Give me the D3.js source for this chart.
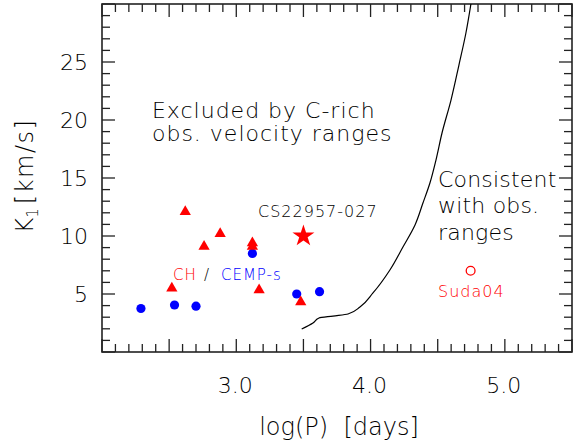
<!DOCTYPE html>
<html>
<head>
<meta charset="utf-8">
<script src="https://cdn.jsdelivr.net/npm/d3@7"></script>
<style>
  body { margin: 0; background: #fff; }
  text { font-family: "DejaVu Sans", sans-serif; font-weight: 200; fill: #000; }
</style>
</head>
<body>
<div id="chart"></div>
<script>
// CH stars (red triangles), log(P) vs K1
const chStars = [
  [2.52, 5.5], [2.62, 12.1], [2.76, 9.1], [2.88, 10.2],
  [3.12, 9.4], [3.12, 9.1], [3.17, 5.35], [3.48, 4.3]
];
// CEMP-s stars (blue dots)
const cempStars = [
  [2.29, 3.75], [2.54, 4.05], [2.70, 3.95], [3.12, 8.5], [3.45, 5.0], [3.62, 5.2]
];
const cs22957 = [3.50, 10.0];
const suda04 = [4.745, 7.0];

// boundary between excluded / consistent regions
const boundary = [
  [3.487, 1.98], [3.571, 2.5], [3.616, 2.93], [3.72, 3.1], [3.832, 3.28],
  [3.921, 3.88], [4.018, 5.09], [4.144, 7.07], [4.241, 9.05], [4.331, 10.95],
  [4.39, 12.84], [4.442, 14.57], [4.487, 16.55], [4.532, 18.88], [4.599, 21.72],
  [4.658, 24.74], [4.71, 27.5], [4.75, 30.2]
];

const xLabels = [3.0, 4.0, 5.0];
const yLabels = [5, 10, 15, 20, 25];

const W = 573, H = 446;
const margin = {left: 102, top: 4, right: 1, bottom: 94};

const svg = d3.select("#chart").append("svg")
  .attr("width", W).attr("height", H);

const x = d3.scaleLinear().domain([2.0, 5.5]).range([margin.left, W - margin.right]);
const y = d3.scaleLinear().domain([0, 30]).range([H - margin.bottom, margin.top]);

const x0 = x.range()[0], x1 = x.range()[1];
const y0 = y.range()[0], y1 = y.range()[1];

// ticks on all four sides, pointing inward
const ticks = svg.append("g").attr("stroke", "#222").attr("stroke-width", 1.3);
d3.range(20, 56).map(d => d / 10).forEach(v => {
  const major = Math.abs(v * 2 - Math.round(v * 2)) < 1e-6;
  const len = major ? 13 : 8;
  ticks.append("line").attr("x1", x(v)).attr("x2", x(v)).attr("y1", y0).attr("y2", y0 - len);
  ticks.append("line").attr("x1", x(v)).attr("x2", x(v)).attr("y1", y1).attr("y2", y1 + len);
});
d3.range(0, 31).forEach(v => {
  const len = v % 5 === 0 ? 13 : 8;
  ticks.append("line").attr("y1", y(v)).attr("y2", y(v)).attr("x1", x0).attr("x2", x0 + len);
  ticks.append("line").attr("y1", y(v)).attr("y2", y(v)).attr("x1", x1).attr("x2", x1 - len);
});

svg.append("rect")
  .attr("x", x0).attr("y", y1)
  .attr("width", x1 - x0).attr("height", y0 - y1)
  .attr("fill", "none").attr("stroke", "#222").attr("stroke-width", 1.6);

// tick labels
svg.selectAll(".xl").data(xLabels).enter().append("text")
  .attr("x", d => x(d) - 1).attr("y", 393)
  .attr("text-anchor", "middle").attr("font-size", 22)
  .text(d => d.toFixed(1));

svg.selectAll(".yl").data(yLabels).enter().append("text")
  .attr("x", 88).attr("y", d => y(d) + 8)
  .attr("text-anchor", "end").attr("font-size", 22)
  .text(d => d);

// axis titles
svg.append("text")
  .attr("x", 339).attr("y", 435)
  .attr("text-anchor", "middle").attr("font-size", 24)
  .style("white-space", "pre")
  .text("log(P)  [days]");

const yt = svg.append("text")
  .attr("transform", "translate(33,176) rotate(-90)")
  .attr("text-anchor", "middle").attr("font-size", 24);
yt.append("tspan").text("K");
yt.append("tspan").attr("font-size", 15).attr("dy", 5).text("1");
yt.append("tspan").attr("dy", -5).attr("dx", 4).attr("letter-spacing", 1.5).text("[km/s]");

// boundary curve
const plot = svg.append("g");
plot.append("clipPath").attr("id", "clip").append("rect")
  .attr("x", x0).attr("y", y1).attr("width", x1 - x0).attr("height", y0 - y1);

plot.append("path")
  .datum(boundary)
  .attr("clip-path", "url(#clip)")
  .attr("fill", "none").attr("stroke", "#000").attr("stroke-width", 1.2)
  .attr("d", d3.line().x(d => x(d[0])).y(d => y(d[1])).curve(d3.curveMonotoneY));

// markers
plot.selectAll(".cemp").data(cempStars).enter().append("circle")
  .attr("cx", d => x(d[0])).attr("cy", d => y(d[1])).attr("r", 4.6)
  .attr("fill", "#0000ff");

plot.selectAll(".ch").data(chStars).enter().append("path")
  .attr("transform", d => `translate(${x(d[0])},${y(d[1])})`)
  .attr("d", d3.symbol(d3.symbolTriangle, 55))
  .attr("fill", "#ff0000");

plot.append("path")
  .attr("transform", `translate(${x(cs22957[0])},${y(cs22957[1])})`)
  .attr("d", d3.symbol(d3.symbolStar, 150))
  .attr("fill", "#ff0000");

plot.append("circle")
  .attr("cx", x(suda04[0])).attr("cy", y(suda04[1])).attr("r", 4.4)
  .attr("fill", "none").attr("stroke", "#ff0000").attr("stroke-width", 1.3);

// annotations (positions in data units)
function note(text, xv, yv, size, color) {
  return svg.append("text")
    .attr("x", x(xv)).attr("y", y(yv))
    .attr("font-size", size).attr("letter-spacing", 1)
    .style("fill", color || "#000")
    .text(text);
}

note("Excluded by C-rich", 2.372, 20.17, 22);
note("obs. velocity ranges", 2.372, 18.19, 22);
note("Consistent", 4.502, 14.22, 22).attr("letter-spacing", 0.2);
note("with obs.", 4.502, 11.98, 22).attr("letter-spacing", 0.2);
note("ranges", 4.502, 9.66, 22).attr("letter-spacing", 0.2);
note("CS22957-027", 3.162, 11.64, 16);
note("CH", 2.529, 6.21, 15, "#ff0000");
note("/", 2.76, 6.21, 15);
note("CEMP-s", 2.886, 6.21, 15, "#0000ff");
note("Suda04", 4.502, 4.74, 16, "#ff0000");
</script>
</body>
</html>
